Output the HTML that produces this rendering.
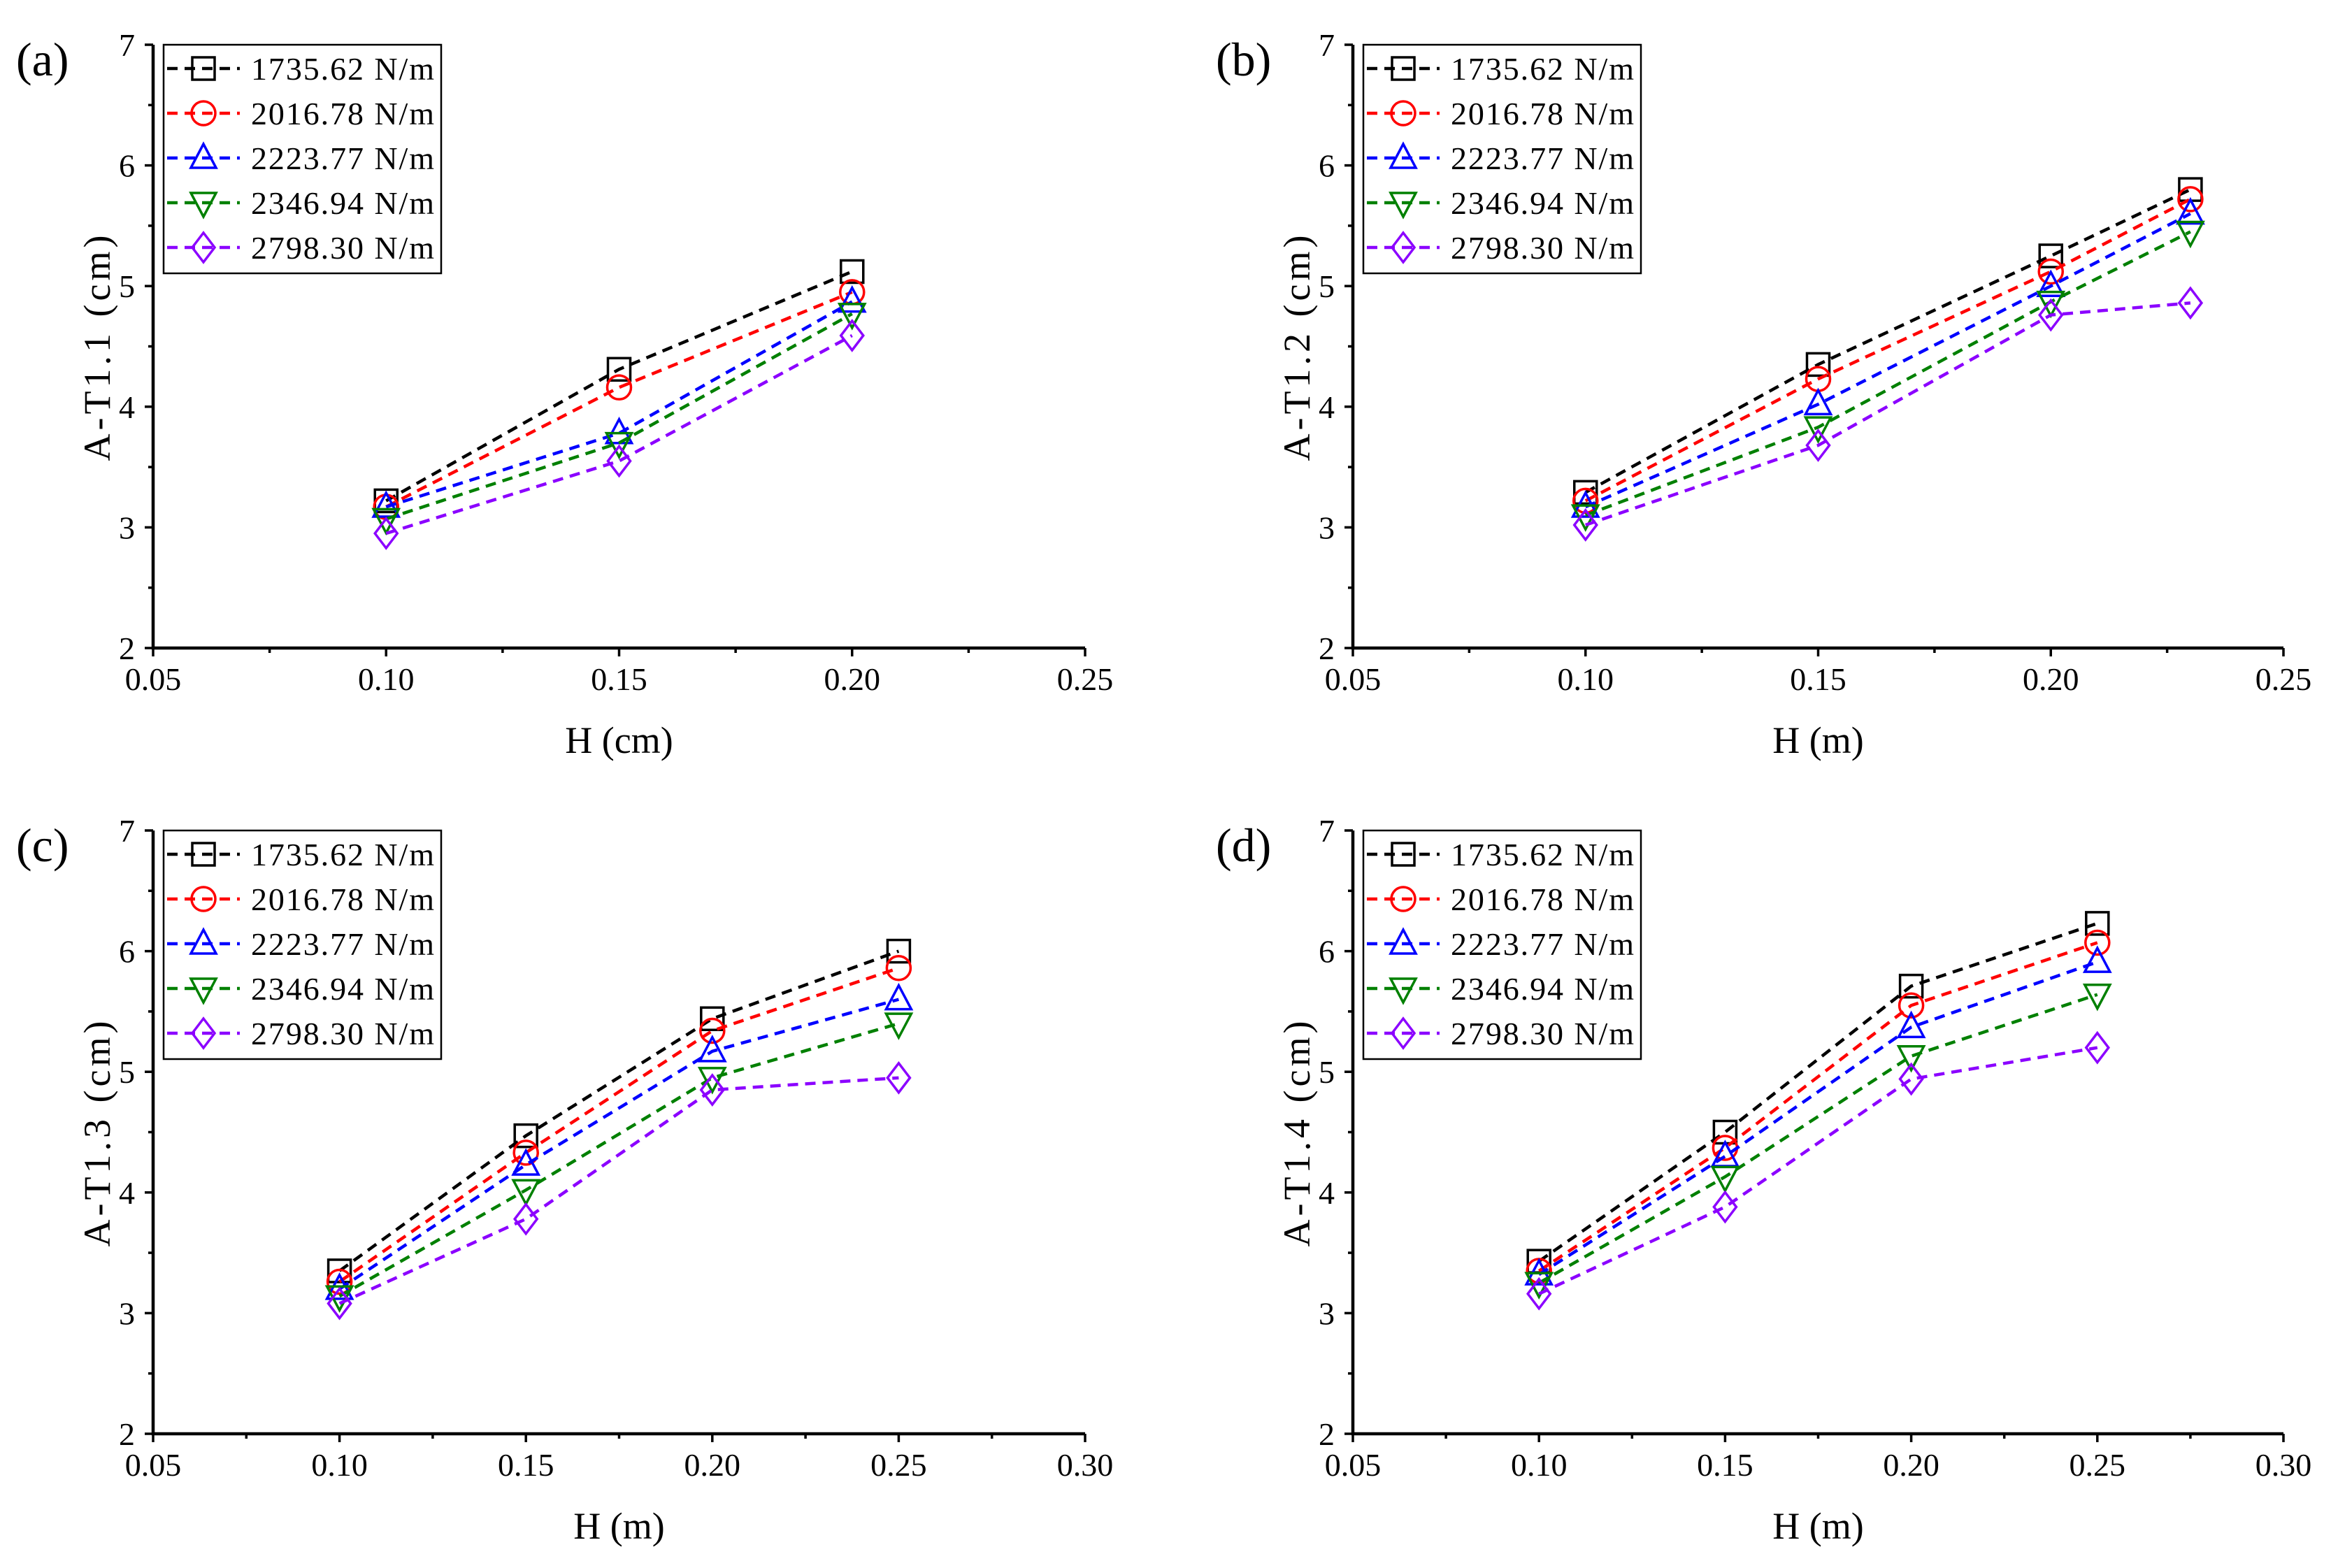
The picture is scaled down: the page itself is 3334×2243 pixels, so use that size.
<!DOCTYPE html>
<html><head><meta charset="utf-8">
<style>
html,body{margin:0;padding:0;background:#fff;}
svg{display:block;font-family:"Liberation Serif",serif;}
</style></head>
<body>
<svg id="chart" width="3334" height="2243" viewBox="0 0 3334 2243" xmlns="http://www.w3.org/2000/svg"></svg>
<script>
const seriesNames = ["1735.62 N/m","2016.78 N/m","2223.77 N/m","2346.94 N/m","2798.30 N/m"];
const xA = [0.10,0.15,0.20];
const xB = [0.10,0.15,0.20,0.23];
const xC = [0.10,0.15,0.20,0.25];
const xD = [0.10,0.15,0.20,0.25];
const aVals = [[3.22,4.31,5.12],[3.17,4.16,4.95],[3.17,3.78,4.87],[3.07,3.70,4.77],[2.95,3.55,4.59]];
const bVals = [[3.29,4.35,5.25,5.80],[3.22,4.23,5.12,5.72],[3.17,4.02,5.00,5.60],[3.10,3.83,4.87,5.45],[3.02,3.68,4.76,4.86]];
const cVals = [[3.35,4.47,5.44,6.00],[3.26,4.33,5.34,5.86],[3.20,4.23,5.17,5.60],[3.14,4.02,4.95,5.40],[3.08,3.78,4.85,4.95]];
const dVals = [[3.43,4.50,5.71,6.23],[3.35,4.37,5.55,6.07],[3.32,4.30,5.37,5.91],[3.25,4.13,5.13,5.64],[3.16,3.88,4.94,5.20]];
const xTicks25 = ["0.05","0.10","0.15","0.20","0.25"];
const xTicks30 = ["0.05","0.10","0.15","0.20","0.25","0.30"];
const yTicks = ["2","3","4","5","6","7"];

const colors = ["#000000","#ff0000","#0000ff","#008000","#8b00ff"];
const markers = ["square","circle","up","down","diamond"];
const NS = "http://www.w3.org/2000/svg";
const svg = document.getElementById("chart");
function mk(tag, attrs, parent){const e=document.createElementNS(NS,tag);for(const k in attrs)e.setAttribute(k,attrs[k]);(parent||svg).appendChild(e);return e;}

function marker(g, type, cx, cy, color){
  const r=18; let e;
  const st={fill:"none",stroke:color,"stroke-width":3.5};
  if(type==="square") e=mk("rect",Object.assign({x:cx-r+2,y:cy-r+2,width:2*r-4,height:2*r-4},st),g);
  else if(type==="circle") e=mk("circle",Object.assign({cx:cx,cy:cy,r:r-1},st),g);
  else if(type==="up") e=mk("polygon",Object.assign({points:`${cx},${cy-r-2} ${cx-r},${cy+r-4} ${cx+r},${cy+r-4}`},st),g);
  else if(type==="down") e=mk("polygon",Object.assign({points:`${cx},${cy+r+2} ${cx-r},${cy-r+4} ${cx+r},${cy-r+4}`},st),g);
  else e=mk("polygon",Object.assign({points:`${cx},${cy-r-3} ${cx+r-2},${cy} ${cx},${cy+r+3} ${cx-r+2},${cy}`},st),g);
  
  
}

function panel(opt){
  const {L,R,T,B,xmax,xTicks,xs,vals,label,ytitle,xtitle,id}=opt;
  const g=mk("g",{});
  
  
  const xS=v=>L+(v-0.05)/(xmax-0.05)*(R-L);
  const yS=v=>B-(v-2)/5*(B-T);
  const ax=mk("path",{d:`M${L},${T} L${L},${B} L${R},${B}`,fill:"none",stroke:"#000","stroke-width":4.5},g);
  
  
  const nx=xTicks.length;
  for(let i=0;i<nx;i++){
    const v=parseFloat(xTicks[i]);const x=xS(v);
    mk("line",{x1:x,y1:B,x2:x,y2:B+12,stroke:"#000","stroke-width":3.5},g);
    if(i<nx-1){const xm=xS(v+0.025);mk("line",{x1:xm,y1:B,x2:xm,y2:B+7,stroke:"#000","stroke-width":3.5},g);}
    const t=mk("text",{x:x,y:B+60,"font-size":46,"text-anchor":"middle"},g);t.textContent=xTicks[i];
    
    
  }
  for(let i=0;i<yTicks.length;i++){
    const v=parseFloat(yTicks[i]);const y=yS(v);
    mk("line",{x1:L-12,y1:y,x2:L,y2:y,stroke:"#000","stroke-width":3.5},g);
    if(i<yTicks.length-1){const ym=yS(v+0.5);mk("line",{x1:L-7,y1:ym,x2:L,y2:ym,stroke:"#000","stroke-width":3.5},g);}
    const t=mk("text",{x:L-26,y:y+16,"font-size":46,"text-anchor":"end"},g);t.textContent=yTicks[i];
    
    
  }
  const lab=mk("text",{x:L-196,y:T+44,"font-size":68},g);lab.textContent=label;
  
  
  const yt=mk("text",{x:0,y:0,"font-size":54,"letter-spacing":5,"text-anchor":"middle",transform:`translate(${L-62},${(T+B)/2}) rotate(-90)`},g);yt.textContent=ytitle;
  
  
  const xt=mk("text",{x:(L+R)/2,y:B+150,"font-size":54,"text-anchor":"middle"},g);xt.textContent=xtitle;
  
  
  vals.forEach((s,k)=>{
    const sg=mk("g",{},g);
    
    
    const pts=s.map((v,i)=>`${xS(xs[i])},${yS(v)}`).join(" ");
    const pl=mk("polyline",{points:pts,fill:"none",stroke:colors[k],"stroke-width":4.5,"stroke-dasharray":"15 10"},sg);
    
    
    s.forEach((v,i)=>marker(sg,markers[k],xS(xs[i]),yS(v),colors[k]));
  });
  const lg=mk("g",{},g);
  
  
  mk("rect",{x:L+15,y:T,width:397,height:327,fill:"#fff",stroke:"#000","stroke-width":2.5},lg);
  seriesNames.forEach((n,k)=>{
    const y=T+34+k*64;
    const le=mk("g",{},lg);
    
    
    mk("line",{x1:L+20,y1:y,x2:L+124,y2:y,stroke:colors[k],"stroke-width":4.5,"stroke-dasharray":"15 10"},le);
    marker(le,markers[k],L+72,y,colors[k]);
    const t=mk("text",{x:L+140,y:y+16,"font-size":46,"textLength":262},le);t.textContent=n;
  });
}
panel({id:"a",L:219,R:1552,T:64,B:927,xmax:0.25,xTicks:xTicks25,xs:xA,vals:aVals,label:"(a)",ytitle:"A-T1.1 (cm)",xtitle:"H (cm)"});
panel({id:"b",L:1935,R:3266,T:64,B:927,xmax:0.25,xTicks:xTicks25,xs:xB,vals:bVals,label:"(b)",ytitle:"A-T1.2 (cm)",xtitle:"H (m)"});
panel({id:"c",L:219,R:1552,T:1188,B:2051,xmax:0.30,xTicks:xTicks30,xs:xC,vals:cVals,label:"(c)",ytitle:"A-T1.3 (cm)",xtitle:"H (m)"});
panel({id:"d",L:1935,R:3266,T:1188,B:2051,xmax:0.30,xTicks:xTicks30,xs:xD,vals:dVals,label:"(d)",ytitle:"A-T1.4 (cm)",xtitle:"H (m)"});
</script>
</body></html>
